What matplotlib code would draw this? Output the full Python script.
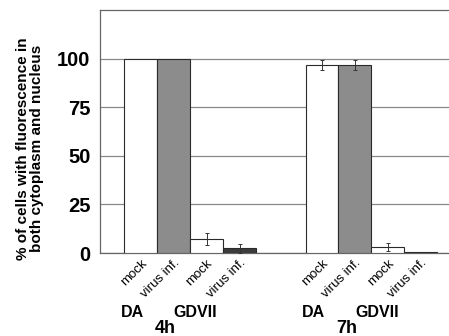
import matplotlib.pyplot as plt

plt.rcParams['font.family'] = ['Liberation Sans', 'DejaVu Sans']

# bar order within each time point: DA mock, DA virus inf., GDVII mock, GDVII virus inf.
times = ["4h", "7h"]
strains = ["DA", "GDVII"]
conditions = ["mock", "virus inf."]
values_4h = [100, 100, 7.2, 2.4]
errors_4h = [0, 0, 3.0, 2.2]
values_7h = [96.8, 96.8, 2.9, 0.5]
errors_7h = [2.6, 2.6, 2.0, 0]
bar_colors = ["white", "#8c8c8c", "white", "#3c3c3c"]

fig = plt.figure(figsize=(4.49, 3.36), dpi=100)
ax = fig.add_axes([0.2227, 0.247, 0.7773, 0.723])

group_starts = [0, 5.5]
all_vals = [values_4h, values_7h]
all_errs = [errors_4h, errors_7h]
xticks = []
xlabels = []
for g, start in enumerate(group_starts):
    xs = [start + i for i in range(4)]
    for i, x in enumerate(xs):
        err = all_errs[g][i]
        ax.bar(x, all_vals[g][i], width=1.0, color=bar_colors[i],
               edgecolor="#2a2a2a", linewidth=0.8, zorder=3)
        if err > 0:
            ax.errorbar(x, all_vals[g][i], yerr=err, fmt="none",
                        ecolor="#333333", elinewidth=0.7, capsize=1.5,
                        capthick=0.7, zorder=4)
    xticks += xs
    xlabels += conditions * 2
    # strain labels and time label under each group
    ax.text(start - 0.26, -30.5, strains[0], ha="center", va="center",
            fontsize=11.5, fontweight="bold", clip_on=False)
    ax.text(start + 1.67, -30.5, strains[1], ha="center", va="center",
            fontsize=11.5, fontweight="bold", clip_on=False)
    ax.text(start + 0.75, -39.0, times[g], ha="center", va="center",
            fontsize=13, fontweight="bold", clip_on=False)

ax.set_xticks(xticks)
ax.set_xticklabels(xlabels, rotation=45, ha="right", rotation_mode="anchor",
                   fontsize=9.5)

ax.set_ylim(0, 125)
ax.set_xlim(-1.23, 9.35)
ax.set_yticks([0, 25, 50, 75, 100])
ax.set_yticklabels(["0", "25", "50", "75", "100"], fontsize=14.5, fontweight="bold")
ax.tick_params(length=0, pad=3)
ax.tick_params(axis="y", pad=7)
ax.yaxis.grid(True, color="#888888", linewidth=0.9, zorder=0)
ax.set_axisbelow(True)

ax.spines["right"].set_visible(False)
for sp in ["left", "top", "bottom"]:
    ax.spines[sp].set_color("#666666")
    ax.spines[sp].set_linewidth(0.9)

ax.set_ylabel("% of cells with fluorescence in\nboth cytoplasm and nucleus",
              fontsize=11, fontweight="bold", linespacing=1.05)
ax.yaxis.set_label_coords(-0.16, 0.43)

plt.savefig("out.png", dpi=100)
